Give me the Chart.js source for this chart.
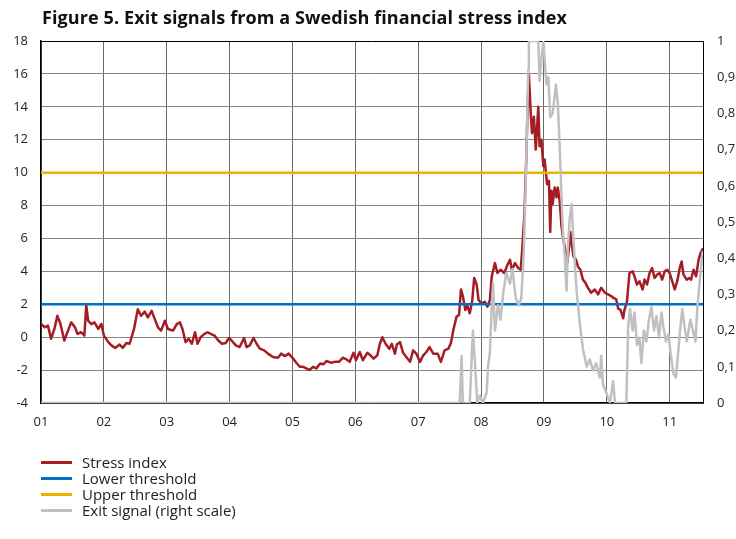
<!DOCTYPE html>
<html>
<head>
<meta charset="utf-8">
<script src="https://cdn.jsdelivr.net/npm/chart.js@4.4.1/dist/chart.umd.min.js"></script>
<style>
  body { margin: 0; background: #fff; }
  #wrap { position: relative; width: 736px; height: 539px; }
  #title { position: absolute; left: 42px; top: 5px; font: bold 18px 'Open Sans'; letter-spacing: 0.1px; color: #111; white-space: nowrap; }
  #legend { position: absolute; left: 41px; top: 454px; font: 15px 'Open Sans'; color: #222; }
  .item { display: flex; align-items: center; height: 16px; }
  .swatch { width: 31px; height: 3px; margin-right: 10px; }
</style>
</head>
<body>
<div id="wrap">
  <canvas id="chart" width="736" height="539"></canvas>
  <div id="title">Figure 5. Exit signals from a Swedish financial stress index</div>
  <div id="legend"></div>
</div>
<script>
// Stress index (left scale), dates as decimal years
const stressDates = [
  2001.00, 2001.06, 2001.11, 2001.16, 2001.22, 2001.26, 2001.31, 2001.37, 2001.43, 2001.48,
  2001.54, 2001.58, 2001.64, 2001.69, 2001.72, 2001.75, 2001.80, 2001.85, 2001.91, 2001.96,
  2002.00, 2002.07, 2002.12, 2002.18, 2002.25, 2002.30, 2002.36, 2002.41, 2002.48, 2002.54,
  2002.59, 2002.65, 2002.70, 2002.76, 2002.81, 2002.86, 2002.91, 2002.97, 2003.02, 2003.10,
  2003.16, 2003.21, 2003.25, 2003.30, 2003.35, 2003.40, 2003.45, 2003.49, 2003.54, 2003.60,
  2003.65, 2003.70, 2003.76, 2003.82, 2003.88, 2003.94, 2003.99, 2004.03, 2004.10, 2004.16,
  2004.23, 2004.27, 2004.32, 2004.38, 2004.43, 2004.48, 2004.55, 2004.61, 2004.69, 2004.77,
  2004.82, 2004.88, 2004.94, 2005.01, 2005.07, 2005.12, 2005.17, 2005.22, 2005.27, 2005.33,
  2005.38, 2005.44, 2005.49, 2005.54, 2005.61, 2005.67, 2005.74, 2005.80, 2005.86, 2005.91,
  2005.97, 2006.01, 2006.07, 2006.12, 2006.19, 2006.24, 2006.29, 2006.35, 2006.39, 2006.43,
  2006.48, 2006.54, 2006.58, 2006.63, 2006.66, 2006.71, 2006.76, 2006.81, 2006.87, 2006.92,
  2006.97, 2007.03, 2007.08, 2007.13, 2007.18, 2007.24, 2007.31, 2007.36, 2007.42, 2007.48,
  2007.52, 2007.56, 2007.61, 2007.65, 2007.68, 2007.71, 2007.75, 2007.78, 2007.82, 2007.86,
  2007.89, 2007.93, 2007.96, 2008.01, 2008.06, 2008.10, 2008.14, 2008.17, 2008.22, 2008.26,
  2008.31, 2008.37, 2008.42, 2008.46, 2008.49, 2008.54, 2008.59, 2008.63, 2008.65, 2008.69,
  2008.72, 2008.74, 2008.76, 2008.79, 2008.81, 2008.84, 2008.87, 2008.91, 2008.93, 2008.96,
  2008.99, 2009.01, 2009.05, 2009.08, 2009.10, 2009.12, 2009.14, 2009.17, 2009.20, 2009.22,
  2009.25, 2009.28, 2009.31, 2009.35, 2009.37, 2009.40, 2009.42, 2009.44, 2009.47, 2009.51,
  2009.54, 2009.58, 2009.62, 2009.66, 2009.70, 2009.75, 2009.81, 2009.86, 2009.91, 2009.97,
  2010.02, 2010.07, 2010.10, 2010.15, 2010.18, 2010.22, 2010.26, 2010.28, 2010.32, 2010.36,
  2010.41, 2010.44, 2010.48, 2010.52, 2010.57, 2010.60, 2010.64, 2010.68, 2010.72, 2010.76,
  2010.80, 2010.84, 2010.88, 2010.92, 2010.96, 2011.00, 2011.04, 2011.08, 2011.12, 2011.16,
  2011.19, 2011.22, 2011.27, 2011.31, 2011.34, 2011.38, 2011.42, 2011.46, 2011.49, 2011.53
];
const stressValues = [
  0.8, 0.6, 0.7, -0.1, 0.6, 1.3, 0.8, -0.2, 0.4, 0.9,
  0.6, 0.2, 0.3, 0.1, 1.95, 1.0, 0.8, 0.9, 0.5, 0.8,
  0.1, -0.3, -0.5, -0.65, -0.45, -0.65, -0.35, -0.4, 0.5, 1.7,
  1.3, 1.55, 1.2, 1.6, 1.1, 0.6, 0.4, 1.0, 0.5, 0.4,
  0.8, 0.9, 0.5, -0.3, -0.1, -0.4, 0.3, -0.4, 0.0, 0.2,
  0.3, 0.2, 0.1, -0.2, -0.4, -0.35, -0.05, -0.2, -0.5, -0.6,
  -0.05, -0.6, -0.5, -0.05, -0.4, -0.7, -0.8, -1.0, -1.2, -1.25,
  -1.0, -1.15, -1.0, -1.3, -1.6, -1.8, -1.8, -1.9, -2.0, -1.8,
  -1.9, -1.6, -1.65, -1.45, -1.55, -1.5, -1.5, -1.25, -1.35, -1.5,
  -0.95, -1.4, -0.9, -1.4, -0.95, -1.1, -1.3, -1.1, -0.4, 0.0,
  -0.4, -0.7, -0.4, -1.0, -0.45, -0.3, -0.95, -1.2, -1.5, -0.8,
  -1.0, -1.5, -1.1, -0.9, -0.6, -1.0, -1.0, -1.5, -0.8, -0.7,
  -0.35, 0.45, 1.25, 1.35, 2.9, 2.5, 1.65, 1.95, 1.45, 2.25,
  3.6, 3.2, 2.25, 2.05, 2.15, 1.85, 2.25, 3.7, 4.5, 3.9,
  4.1, 3.9, 4.4, 4.7, 4.1, 4.5, 4.2, 4.1, 5.1, 7.5,
  11.0, 14.0, 16.0, 13.6, 12.4, 13.4, 11.4, 14.0, 11.6, 12.0,
  10.4, 10.8, 9.3, 9.5, 6.4, 8.9, 8.1, 9.1, 8.5, 9.1,
  8.3, 6.7, 5.9, 5.1, 4.5, 5.5, 6.4, 5.7, 4.9, 4.7,
  4.3, 4.1, 3.5, 3.3, 3.0, 2.7, 2.9, 2.6, 3.0, 2.7,
  2.6, 2.5, 2.4, 2.3, 1.75, 1.65, 1.15, 1.65, 2.15, 3.9,
  4.0, 3.7, 3.2, 3.4, 2.9, 3.5, 3.2, 3.9, 4.2, 3.6,
  3.8, 3.9, 3.5, 4.0, 4.1, 3.9, 3.4, 2.9, 3.4, 4.2,
  4.6, 3.8, 3.5, 3.6, 3.5, 4.1, 3.7, 4.7, 5.1, 5.4
];

// Exit signal (right scale)
const exitDates = [
  2001.00, 2007.66, 2007.69, 2007.71, 2007.82, 2007.87, 2007.90, 2007.94, 2007.98, 2008.03,
  2008.09, 2008.11, 2008.14, 2008.17, 2008.19, 2008.22, 2008.27, 2008.31, 2008.35, 2008.40,
  2008.46, 2008.50, 2008.55, 2008.60, 2008.64, 2008.68, 2008.71, 2008.75, 2008.76, 2008.91,
  2008.93, 2008.96, 2008.99, 2009.01, 2009.04, 2009.07, 2009.10, 2009.14, 2009.19, 2009.22,
  2009.25, 2009.28, 2009.30, 2009.33, 2009.36, 2009.38, 2009.41, 2009.44, 2009.46, 2009.49,
  2009.52, 2009.57, 2009.62, 2009.68, 2009.73, 2009.78, 2009.83, 2009.89, 2009.91, 2009.94,
  2009.99, 2010.05, 2010.10, 2010.13, 2010.31, 2010.34, 2010.37, 2010.41, 2010.44, 2010.48,
  2010.52, 2010.55, 2010.59, 2010.63, 2010.67, 2010.71, 2010.75, 2010.79, 2010.83, 2010.87,
  2010.90, 2010.94, 2010.98, 2011.02, 2011.06, 2011.10, 2011.13, 2011.16, 2011.20, 2011.23,
  2011.27, 2011.30, 2011.33, 2011.37, 2011.41, 2011.44, 2011.48, 2011.51, 2011.53
];
const exitValues = [
  0, 0, 0.13, 0, 0, 0.2, 0.12, 0, 0.02, 0,
  0.03, 0.1, 0.14, 0.27, 0.33, 0.2, 0.27, 0.23, 0.3, 0.36,
  0.33, 0.37, 0.29, 0.27, 0.29, 0.42, 0.6, 0.92, 1.0, 1.0,
  0.89, 0.95, 1.0, 0.95, 0.88, 0.9, 0.79, 0.8, 0.88, 0.83,
  0.71, 0.57, 0.48, 0.41, 0.31, 0.43, 0.51, 0.55, 0.48, 0.39,
  0.31, 0.22, 0.15, 0.1, 0.12, 0.09, 0.11, 0.07, 0.13, 0.05,
  0.03, 0, 0.06, 0, 0, 0.21, 0.26, 0.2, 0.25, 0.16,
  0.18, 0.11, 0.2, 0.17, 0.23, 0.265, 0.2, 0.24, 0.18, 0.25,
  0.21, 0.17, 0.19, 0.13, 0.08, 0.07, 0.13, 0.19, 0.26, 0.22,
  0.17, 0.2, 0.23, 0.2, 0.17, 0.265, 0.34, 0.395, 0.42
];

const lowerThreshold = 2;
const upperThreshold = 10;
const xStart = 2001;
const xEnd = 2011.53;

const seriesLabels = ['Stress index', 'Lower threshold', 'Upper threshold', 'Exit signal (right scale)'];
const seriesColors = ['#a51c24', '#0070c0', '#f0b000', '#c0c0c0'];

const toPoints = (xs, ys) => xs.map((x, i) => ({ x: x, y: ys[i] }));
const tickFont = { family: 'Open Sans', size: 13 };

const ctx = document.getElementById('chart').getContext('2d');
new Chart(ctx, {
    type: 'line',
    data: {
        datasets: [{
            label: seriesLabels[0],
            data: toPoints(stressDates, stressValues),
            borderColor: seriesColors[0],
            borderWidth: 2.5,
            yAxisID: 'y',
            order: 4
        }, {
            label: seriesLabels[1],
            data: toPoints([xStart, xEnd], [lowerThreshold, lowerThreshold]),
            borderColor: seriesColors[1],
            borderWidth: 2.5,
            yAxisID: 'y',
            order: 3
        }, {
            label: seriesLabels[2],
            data: toPoints([xStart, xEnd], [upperThreshold, upperThreshold]),
            borderColor: seriesColors[2],
            borderWidth: 2.5,
            yAxisID: 'y',
            order: 2
        }, {
            label: seriesLabels[3],
            data: toPoints(exitDates, exitValues),
            borderColor: seriesColors[3],
            borderWidth: 2.5,
            yAxisID: 'y2',
            order: 1
        }]
    },
    options: {
        responsive: false,
        animation: false,
        layout: { padding: { top: 41, left: 0, right: 0, bottom: 0 } },
        elements: {
            point: { radius: 0 },
            line: { tension: 0, borderJoinStyle: 'round' }
        },
        plugins: {
            legend: { display: false },
            tooltip: { enabled: false }
        },
        scales: {
            x: {
                type: 'linear',
                min: xStart,
                max: xEnd,
                afterFit: s => { s.height = 136; },
                ticks: {
                    stepSize: 1,
                    includeBounds: false,
                    autoSkip: false,
                    maxRotation: 0,
                    padding: 11,
                    color: '#222',
                    font: tickFont,
                    callback: v => String(v).slice(2)
                },
                grid: { color: '#6a6a6a', lineWidth: 1, drawTicks: false },
                border: { color: '#000', width: 1.5 }
            },
            y: {
                position: 'left',
                min: -4,
                max: 18,
                afterFit: s => { s.width = 41; },
                ticks: { stepSize: 2, padding: 13, color: '#222', font: tickFont },
                grid: {
                    lineWidth: 1,
                    color: c => (c.tick && c.tick.value === 18) ? '#000' : '#858585',
                    drawTicks: false
                },
                border: { color: '#000', width: 1.5 }
            },
            y2: {
                position: 'right',
                min: 0,
                max: 1,
                afterFit: s => { s.width = 33; },
                ticks: {
                    stepSize: 0.1,
                    padding: 14,
                    color: '#222',
                    font: tickFont,
                    callback: v => String(Math.round(v * 10) / 10).replace('.', ',')
                },
                grid: { display: false, drawTicks: false },
                border: { color: '#000', width: 1 }
            }
        }
    }
});

// Legend, one item per row
document.getElementById('legend').innerHTML = seriesLabels.map((lbl, i) =>
    `<div class="item"><span class="swatch" style="background:${seriesColors[i]}"></span>${lbl}</div>`
).join('');
</script>
</body>
</html>
